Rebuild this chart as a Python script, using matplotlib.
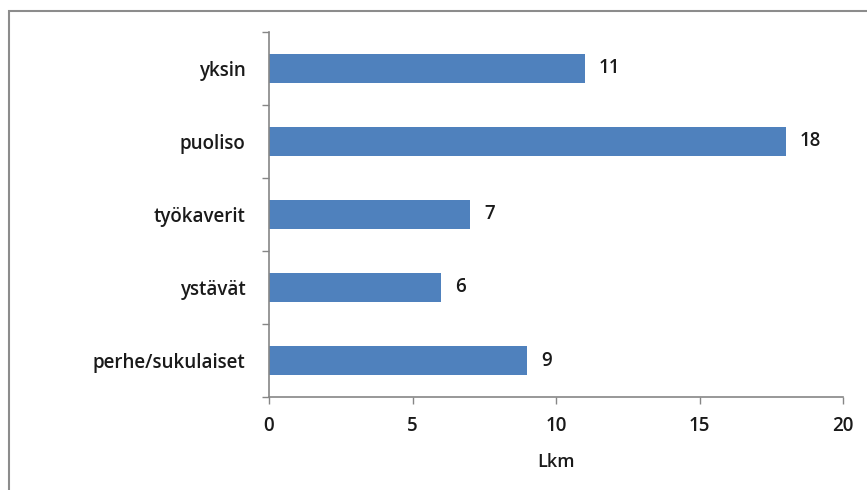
import matplotlib
matplotlib.use("Agg")
import matplotlib.pyplot as plt
from matplotlib.patches import Rectangle

categories = ["perhe/sukulaiset", "ystävät", "työkaverit", "puoliso", "yksin"]
values = [9, 6, 7, 18, 11]
xticks = [0, 5, 10, 15, 20]
xlabel = "Lkm"

plt.rcParams["font.family"] = ["Open Sans", "DejaVu Sans"]
TXT = "#1a1a1a"
FS = 13.5

fig = plt.figure(figsize=(8.67, 4.9), dpi=100)
W, H = 867, 490

# outer chart frame (top and left edges visible)
frame = Rectangle((9 / W, -0.1), 1.1, (490 - 11) / H + 0.1, transform=fig.transFigure,
                  fill=False, edgecolor="#8c8c8c", linewidth=1.5)
fig.patches.append(frame)

ax = fig.add_axes([269 / W, (H - 397) / H, (843 - 269) / W, (397 - 32) / H])

y = list(range(len(categories)))
ax.barh(y, values, height=0.4, color="#4F81BD", zorder=2)
for yi, v in zip(y, values):
    ax.text(v + 0.5, yi, str(v), va="center", ha="left", fontsize=FS,
            fontweight="semibold", color=TXT)

ax.set_xlim(0, 20)
ax.set_ylim(-0.5, len(categories) - 0.5)
ax.set_xticks(xticks)
ax.set_xticklabels([str(t) for t in xticks], fontsize=FS, fontweight="semibold", color=TXT)
ax.set_yticks(y)
ax.set_yticklabels(categories, fontsize=FS, fontweight="semibold", color=TXT)
ax.tick_params(axis="y", length=0, pad=17)
ax.set_yticks([i - 0.5 for i in range(len(categories) + 1)], minor=True)
ax.tick_params(axis="y", which="minor", length=5, color="#868686", width=1)
ax.tick_params(axis="x", length=5, color="#868686", width=1, pad=9)

for side in ["top", "right"]:
    ax.spines[side].set_visible(False)
for side in ["left", "bottom"]:
    ax.spines[side].set_color("#868686")
    ax.spines[side].set_linewidth(1.2)

ax.set_xlabel(xlabel, fontsize=13, fontweight="semibold", color=TXT, labelpad=12)

fig.savefig("out.png", dpi=100)
